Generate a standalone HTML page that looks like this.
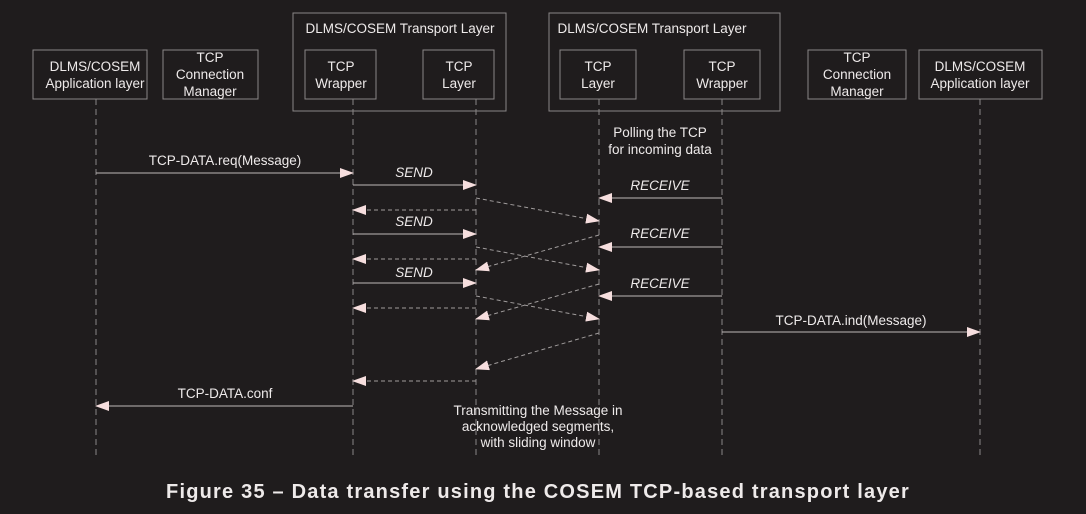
<!DOCTYPE html>
<html><head><style>
body{margin:0;background:#1f1c1d;}
svg{display:block}
text{font-family:"Liberation Sans",sans-serif;fill:#eeeaea;font-size:13.5px;text-anchor:middle}
.i{font-style:italic}
</style></head><body>
<svg width="1086" height="514" viewBox="0 0 1086 514">
<defs>
<marker id="a" markerWidth="14" markerHeight="10" refX="13" refY="5" orient="auto" markerUnits="userSpaceOnUse"><path d="M0,0 L14,5 L0,10 z" fill="#f6dede"/></marker>
</defs>
<g fill="none" stroke="#8a8686" stroke-width="1">
<rect x="293" y="13" width="213" height="98"/>
<rect x="549" y="13" width="231" height="98"/>
<rect x="33" y="50" width="114" height="49"/>
<rect x="163" y="50" width="95" height="49"/>
<rect x="305" y="50" width="71" height="49"/>
<rect x="423" y="50" width="71" height="49"/>
<rect x="560" y="50" width="76" height="49"/>
<rect x="684" y="50" width="76" height="49"/>
<rect x="808" y="50" width="98" height="49"/>
<rect x="919" y="50" width="123" height="49"/>
</g>
<g stroke="#8a8686" stroke-dasharray="6,4">
<line x1="96" y1="99" x2="96" y2="456"/>
<line x1="353" y1="99" x2="353" y2="456"/>
<line x1="476" y1="99" x2="476" y2="456"/>
<line x1="599" y1="99" x2="599" y2="456"/>
<line x1="722" y1="99" x2="722" y2="456"/>
<line x1="980" y1="99" x2="980" y2="456"/>
</g>
<g stroke="#bdb8b8" marker-end="url(#a)">
<line x1="96" y1="173" x2="353" y2="173"/>
<line x1="353" y1="185" x2="476" y2="185"/>
<line x1="353" y1="234" x2="476" y2="234"/>
<line x1="353" y1="283" x2="476" y2="283"/>
<line x1="722" y1="198" x2="599" y2="198"/>
<line x1="722" y1="247" x2="599" y2="247"/>
<line x1="722" y1="296" x2="599" y2="296"/>
<line x1="722" y1="332" x2="980" y2="332"/>
<line x1="353" y1="406" x2="96" y2="406"/>
</g>
<g stroke="#a09c9c" stroke-dasharray="4,3" marker-end="url(#a)">
<line x1="476" y1="210" x2="353" y2="210"/>
<line x1="476" y1="259" x2="353" y2="259"/>
<line x1="476" y1="308" x2="353" y2="308"/>
<line x1="476" y1="381" x2="353" y2="381"/>
<line x1="476" y1="198" x2="599" y2="221"/>
<line x1="476" y1="247" x2="599" y2="270"/>
<line x1="476" y1="296" x2="599" y2="319"/>
<line x1="599" y1="235" x2="476" y2="270"/>
<line x1="599" y1="284" x2="476" y2="319"/>
<line x1="599" y1="333" x2="476" y2="369"/>
</g>
<text x="400" y="33">DLMS/COSEM Transport Layer</text>
<text x="652" y="33">DLMS/COSEM Transport Layer</text>
<text x="95" y="71">DLMS/COSEM</text><text x="95" y="88">Application layer</text>
<text x="210" y="62">TCP</text><text x="210" y="79">Connection</text><text x="210" y="96">Manager</text>
<text x="341" y="71">TCP</text><text x="341" y="88">Wrapper</text>
<text x="459" y="71">TCP</text><text x="459" y="88">Layer</text>
<text x="598" y="71">TCP</text><text x="598" y="88">Layer</text>
<text x="722" y="71">TCP</text><text x="722" y="88">Wrapper</text>
<text x="857" y="62">TCP</text><text x="857" y="79">Connection</text><text x="857" y="96">Manager</text>
<text x="980" y="71">DLMS/COSEM</text><text x="980" y="88">Application layer</text>
<text x="660" y="137">Polling the TCP</text><text x="660" y="154">for incoming data</text>
<text x="225" y="165">TCP-DATA.req(Message)</text>
<text class="i" x="414" y="177">SEND</text>
<text class="i" x="414" y="226">SEND</text>
<text class="i" x="414" y="277">SEND</text>
<text class="i" x="660" y="190">RECEIVE</text>
<text class="i" x="660" y="238">RECEIVE</text>
<text class="i" x="660" y="288">RECEIVE</text>
<text x="851" y="325">TCP-DATA.ind(Message)</text>
<text x="225" y="398">TCP-DATA.conf</text>
<text x="538" y="415">Transmitting the Message in</text>
<text x="538" y="431">acknowledged segments,</text>
<text x="538" y="447">with sliding window</text>
<text x="538" y="498" style="font-size:20px;font-weight:bold;letter-spacing:1.2px">Figure 35 – Data transfer using the COSEM TCP-based transport layer</text>
</svg>
</body></html>
